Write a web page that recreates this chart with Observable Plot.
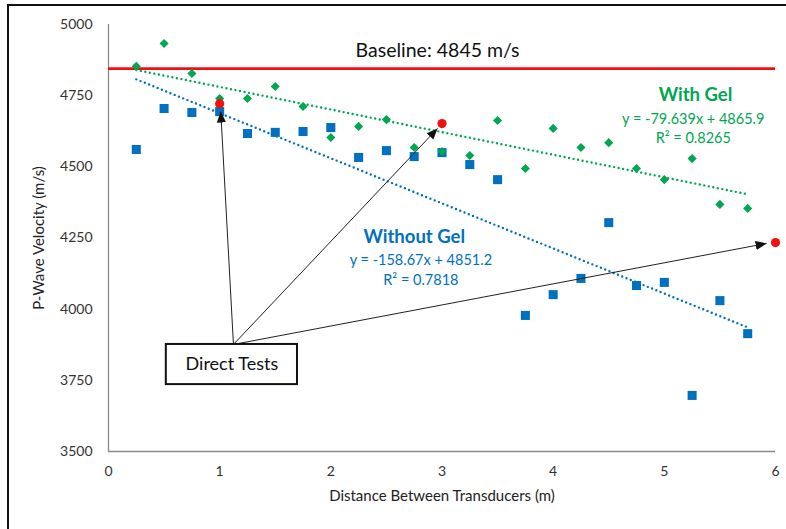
<!DOCTYPE html>
<html><head><meta charset="utf-8">
<script src="https://cdn.jsdelivr.net/npm/d3@7"></script>
<script src="https://cdn.jsdelivr.net/npm/@observablehq/plot@0.6"></script>
<style>
body{margin:0;background:#fff;}
#wrap{position:relative;width:786px;height:529px;overflow:hidden;background:#fff;}
#wrap svg{position:absolute;left:0;top:0;}
#border{position:absolute;left:7px;top:4px;width:900px;height:700px;border-top:2px solid #111;border-left:2px solid #111;pointer-events:none;}
</style></head><body><div id="wrap"></div>
<script>
// Data
const distances = [0.25,0.5,0.75,1.0,1.25,1.5,1.75,2.0,2.25,2.5,2.75,3.0,3.25,3.5,3.75,4.0,4.25,4.5,4.75,5.0,5.25,5.5,5.75];
const withoutGel = [4561,4705,4691,4694,4617,4621,4624,4638,4533,4557,4536,4550,4508,4455,3978,4051,4108,4304,4083,4094,3697,4030,3914];
const withGel    = [4853,4933,4828,4740,4740,4782,4712,4603,4642,4666,4568,4554,4540,4663,4494,4635,4568,4585,4494,4455,4529,4368,4354];
const directX = [1, 3, 6];
const directY = [4722, 4652, 4234];
const baseline = 4845;
const xTicks = [0,1,2,3,4,5,6];
const yTicks = [3500,3750,4000,4250,4500,4750,5000];

// Annotation texts and anchor points (data coordinates)
const titleTexts = ["With Gel", "Without Gel"];
const titleX = [5.28, 2.75];
const titleY = [4751, 4252];
const noteTexts = ["Baseline: 4845 m/s","y = -79.639x + 4865.9","R² = 0.8265","y = -158.67x + 4851.2","R² = 0.7818"];
const noteX = [2.96, 5.26, 5.26, 2.81, 2.81];
const noteY = [4909, 4666, 4600, 4171, 4101];
const arrowStart = [1.124, 3876];
const arrowTipX = [1.01, 2.96, 5.92];
const arrowTipY = [4694, 4635, 4231];
const boxText = "Direct Tests";
const boxX = [0.52, 1.70];
const boxY = [3735, 3876];

const BLUE = "#0070c0", GREEN = "#00a651", RED = "#f01010";
const FONT = "Lato, 'Open Sans', sans-serif";

const blueRows = distances.map((d,i)=>({x:d, y:withoutGel[i]}));
const greenRows = distances.map((d,i)=>({x:d, y:withGel[i]}));
const redRows = directX.map((d,i)=>({x:d, y:directY[i]}));
const arrows = arrowTipX.map((x,i)=>({x1:arrowStart[0], y1:arrowStart[1], x2:x, y2:arrowTipY[i]}));
const titles = titleTexts.map((t,i)=>({t, x:titleX[i], y:titleY[i], i}));
const notes = noteTexts.map((t,i)=>({t, x:noteX[i], y:noteY[i], i}));
const titleColor = [GREEN, BLUE];
const noteColor = ["#111", GREEN, GREEN, BLUE, BLUE];
const noteSize = [19.5, 14.5, 14.5, 14.5, 14.5];

const chart = Plot.plot({
  width: 786, height: 529,
  marginLeft: 108, marginTop: 24, marginRight: 11, marginBottom: 78,
  style: {background: "transparent", fontFamily: FONT, fontSize: "14px", color: "#333"},
  x: {domain: [0, 6], ticks: xTicks, tickFormat: d => String(d), tickSize: 0, tickPadding: 15, label: null},
  y: {domain: [3500, 5000], ticks: yTicks, tickFormat: d => String(d), tickSize: 0, tickPadding: 16, label: null},
  marks: [
    Plot.ruleX([0], {y1: 3500, y2: 5000, stroke: "#8a8a8a", strokeWidth: 1.3}),
    Plot.ruleY([3500], {x1: 0, x2: 6, stroke: "#8a8a8a", strokeWidth: 1.3}),
    Plot.ruleY([baseline], {x1: 0, x2: 6, stroke: RED, strokeWidth: 2.6}),
    Plot.linearRegressionY(blueRows, {x: "x", y: "y", ci: 0, stroke: BLUE, strokeWidth: 2.4, strokeDasharray: "0,4.6", strokeLinecap: "round"}),
    Plot.linearRegressionY(greenRows, {x: "x", y: "y", ci: 0, stroke: GREEN, strokeWidth: 2.4, strokeDasharray: "0,4.6", strokeLinecap: "round"}),
    Plot.dot(blueRows, {x: "x", y: "y", symbol: "square", r: 5.1, fill: BLUE, stroke: "none"}),
    Plot.dot(greenRows, {x: "x", y: "y", symbol: "diamond2", r: 4.1, fill: GREEN, stroke: "none"}),
    Plot.dot(redRows, {x: "x", y: "y", symbol: "circle", r: 4.6, fill: RED, stroke: "none"}),
    Plot.link(arrows, {x1: "x1", y1: "y1", x2: "x2", y2: "y2", stroke: "#222", strokeWidth: 1, markerEnd: "arrow"}),
    Plot.rect([boxText], {x1: boxX[0], x2: boxX[1], y1: boxY[0], y2: boxY[1], fill: "white", stroke: "#111", strokeWidth: 2}),
    Plot.text([boxText], {x: (boxX[0]+boxX[1])/2, y: (boxY[0]+boxY[1])/2, text: d=>d, fontSize: 18, fill: "#111", lineAnchor: "middle"}),
    Plot.text(titles, {x: "x", y: "y", text: "t", lineAnchor: "middle", fill: d=>titleColor[d.i], fontSize: 18.5, fontWeight: "bold"}),
    Plot.text(notes, {x: "x", y: "y", text: "t", lineAnchor: "middle", fill: d=>noteColor[d.i], fontSize: d=>noteSize[d.i]}),
    Plot.text(["P-Wave Velocity (m/s)"], {frameAnchor: "left", dx: -69, rotate: -90, text: d=>d, fontSize: 15, fill: "#222", lineAnchor: "middle", textAnchor: "middle"}),
    Plot.text(["Distance Between Transducers (m)"], {frameAnchor: "bottom", dy: 45, text: d=>d, fontSize: 15, fill: "#222", lineAnchor: "middle"})
  ]
});

// filled arrowheads
chart.querySelectorAll("marker").forEach(m => {
  m.setAttribute("viewBox", "-10 -5 10 10");
  m.setAttribute("markerWidth", "11");
  m.setAttribute("markerHeight", "11");
  m.setAttribute("fill", "#111");
  m.setAttribute("stroke", "none");
  m.querySelectorAll("path").forEach(p => p.setAttribute("d", "M-10,-4.2L0,0L-10,4.2Z"));
});

const wrap = document.getElementById("wrap");
wrap.appendChild(chart);
const border = document.createElement("div");
border.id = "border";
wrap.appendChild(border);
</script>
</body></html>
